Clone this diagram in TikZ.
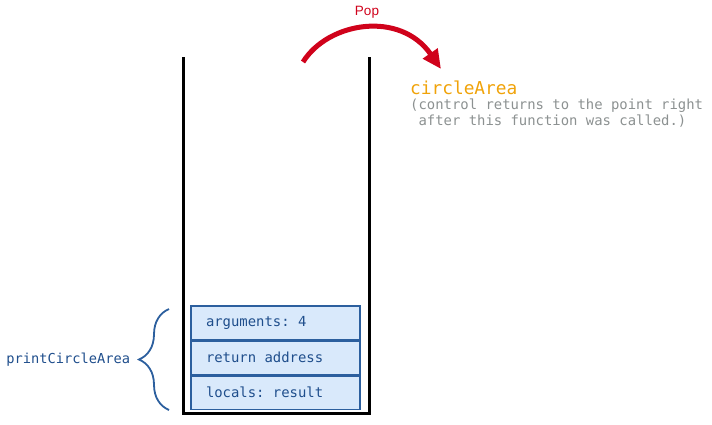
\documentclass[tikz,border=0pt]{standalone}
\usepackage{fontspec}
\setmonofont{DejaVu Sans Mono}[WordSpace={1,0,0}]
\setsansfont{Liberation Sans}
\usetikzlibrary{arrows.meta,positioning,decorations.pathreplacing}
\definecolor{popred}{HTML}{D0021B}
\definecolor{framefill}{HTML}{D9E9FB}
\definecolor{frameblue}{HTML}{2C5F9E}
\definecolor{frametext}{HTML}{1F4E8C}
\definecolor{fnorange}{HTML}{F0A30A}
\definecolor{notegray}{HTML}{8C9191}
\tikzset{frame/.style = {draw=frameblue, fill=framefill, line width=1.5pt,
                         minimum width=169pt, minimum height=33.5pt,
                         text width=139pt, inner xsep=15pt, align=flush left,
                         font=\ttfamily\fontsize{13.9}{16}\selectfont, text=frametext},
         wall/.style = {line width=3pt}}

\begin{document}
\begin{tikzpicture}[x=1pt, y=-1pt]
  \useasboundingbox (0,0) rectangle (712,424);
  % the stack
  \draw[wall] (183,57) -- (183,413) -- (369,413) -- (369,57);
  \node[frame] (locals) at (275.5,392.5) {locals: result};
  \node[frame, above=0pt of locals] (retaddr) {return address};
  \node[frame, above=0pt of retaddr] (args) {arguments: 4};
  % brace round the frame
  \coordinate (bracebot) at (169,410);
  \coordinate (bracetop) at (169,309);
  \draw[frameblue, line width=1.8pt, decorate, decoration={brace, amplitude=30pt}]
    (bracebot) -- (bracetop) node [midway, left=38pt, inner sep=0pt,
      font=\ttfamily\fontsize{13.7}{16}\selectfont, text=frametext] (fname) {printCircleArea};
  % pop arrow
  \coordinate (popstart) at (303,62);
  \coordinate (popend) at (441,69);
  \draw[popred, line width=5pt, -{Triangle[length=19pt, width=17pt]}]
    (popstart) .. controls (328,22) and (400,10) .. (popend);
  \node[text=popred, font=\sffamily\fontsize{13.5}{16}\selectfont] (pop) at (367,12) {Pop};
  % returning function
  \node[anchor=west, inner sep=0pt, text=fnorange,
        font=\ttfamily\fontsize{17.8}{20}\selectfont] (circ) at (410,88) {circleArea};
  \node[anchor=north west, inner sep=0pt, text=notegray, align=flush left,
        font=\ttfamily\fontsize{13.9}{16}\selectfont] (note) at (410,99)
    {(control returns to the point right\\\ after this function was called.)};
\end{tikzpicture}
\end{document}
